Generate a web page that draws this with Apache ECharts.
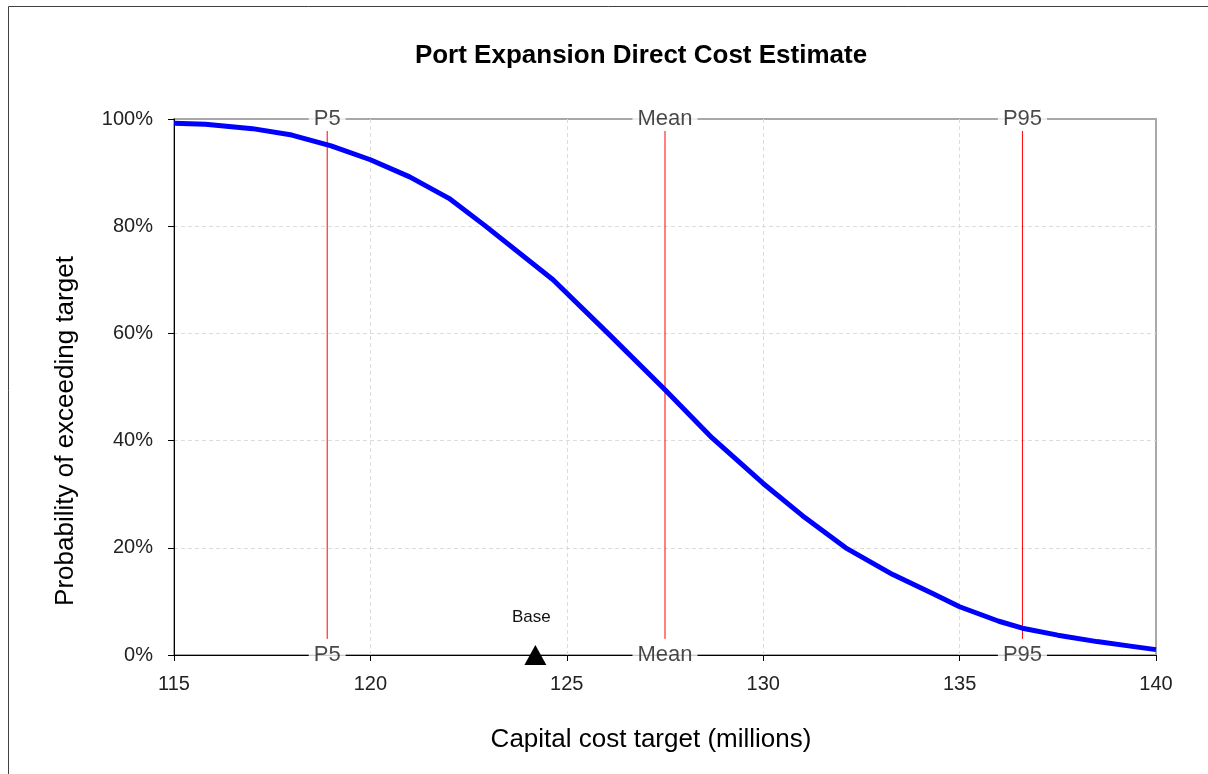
<!DOCTYPE html>
<html>
<head>
<meta charset="utf-8">
<script src="https://cdn.jsdelivr.net/npm/echarts@6/dist/echarts.min.js"></script>
<style>
html,body{margin:0;padding:0;background:#fff;}
#chart{width:1208px;height:774px;}
</style>
</head>
<body>
<div id="chart"></div>
<script>
// ---- data ----
var costTargets = [115, 115.8, 117, 118, 119, 120, 121, 122, 122.9, 124.65, 126.05, 127.5, 128.7, 130.0, 131, 132.1, 133.3, 134.3, 135, 136, 136.6, 137.5, 138.5, 139.3, 140];
var exceedProb  = [99.2, 99.0, 98.2, 97.0, 95.0, 92.4, 89.2, 85.2, 80.2, 70.0, 60.0, 49.5, 40.5, 32.0, 26.0, 20.0, 15.0, 11.5, 9.0, 6.3, 5.0, 3.7, 2.5, 1.7, 1.0];
var refNames  = ['P5', 'Mean', 'P95'];
var refValues = [118.9, 127.5, 136.6];
var refLineFrom = 3;
var refLineTo = 97.8;
var baseName = 'Base';
var baseValue = 124.2;
var xTicks = [115, 120, 125, 130, 135, 140];
var yTicks = [0, 20, 40, 60, 80, 100];

var curve = costTargets.map(function (x, i) { return [x, exceedProb[i]]; });
var refLabelsTop = refValues.map(function (v, i) { return [v, yTicks[yTicks.length - 1], refNames[i]]; });
var refLabelsBottom = refValues.map(function (v, i) { return [v, yTicks[0], refNames[i]]; });

var FONT = 'Liberation Sans, Arial, sans-serif';

var refLineSeries = refValues.map(function (v) {
  return {
    type: 'line', data: [[v, refLineFrom], [v, refLineTo]], showSymbol: false, silent: true, z: 2,
    lineStyle: {color: '#ff0000', width: 1}
  };
});

var chart = echarts.init(document.getElementById('chart'), null, {renderer: 'canvas'});
chart.setOption({
  backgroundColor: '#fff',
  animation: false,
  title: {
    text: 'Port Expansion Direct Cost Estimate',
    left: 636, top: 38, textAlign: 'center',
    textStyle: {fontFamily: FONT, fontSize: 26, fontWeight: 'bold', color: '#000'}
  },
  grid: {
    left: 174, top: 119, right: 52, bottom: 119,
    show: true, borderColor: '#a8a8a8', borderWidth: 2, backgroundColor: '#fff'
  },
  xAxis: {
    type: 'value', min: xTicks[0], max: xTicks[xTicks.length - 1], interval: 5,
    axisLine: {show: true, onZero: false, lineStyle: {color: '#000', width: 1}},
    axisTick: {show: true, length: 6, lineStyle: {color: '#000'}},
    axisLabel: {fontFamily: FONT, fontSize: 20, color: '#222', margin: 19},
    splitLine: {show: true, showMinLine: false, showMaxLine: false, lineStyle: {color: '#dcdcdc', type: [4, 3]}}
  },
  yAxis: {
    type: 'value', min: yTicks[0], max: yTicks[yTicks.length - 1], interval: 20,
    axisLine: {show: true, onZero: false, lineStyle: {color: '#000', width: 1}},
    axisTick: {show: true, length: 6, lineStyle: {color: '#000'}},
    axisLabel: {fontFamily: FONT, fontSize: 20, color: '#222', margin: 21, formatter: '{value}%'},
    splitLine: {show: true, showMinLine: false, showMaxLine: false, lineStyle: {color: '#dcdcdc', type: [4, 3]}}
  },
  graphic: [
    {type: 'rect', shape: {x: 8.5, y: 6.5, width: 1400, height: 1000}, style: {fill: 'none', stroke: '#404040', lineWidth: 1}, silent: true, z: -10},
    {type: 'text', x: 651, y: 740, style: {text: 'Capital cost target (millions)', font: '26px ' + FONT, fill: '#000', textAlign: 'center', textVerticalAlign: 'middle'}},
    {type: 'text', x: 66, y: 431, rotation: Math.PI / 2, style: {text: 'Probability of exceeding target', font: '26px ' + FONT, fill: '#000', textAlign: 'center', textVerticalAlign: 'middle'}}
  ],
  series: [
    {
      type: 'line', data: curve, showSymbol: false, smooth: false, z: 3,
      lineStyle: {color: '#0000ff', width: 5}
    }
  ].concat(refLineSeries).concat([
    {
      type: 'scatter', data: refLabelsTop.concat(refLabelsBottom), symbolSize: 0, clip: false, z: 5, silent: true,
      label: {
        show: true, position: 'inside', formatter: function (p) { return p.value[2]; },
        fontFamily: FONT, fontSize: 22, color: '#1a1a1a', backgroundColor: '#fff', padding: [1, 5]
      }
    },
    {
      type: 'scatter', data: [[baseValue, 0]], symbol: 'triangle', symbolSize: [22, 20], clip: false, z: 6, silent: true,
      itemStyle: {color: '#000', opacity: 1},
      label: {show: true, position: 'top', distance: 19, offset: [-4, 0], formatter: baseName, fontFamily: FONT, fontSize: 17, color: '#111'}
    }
  ])
});
</script>
</body>
</html>
